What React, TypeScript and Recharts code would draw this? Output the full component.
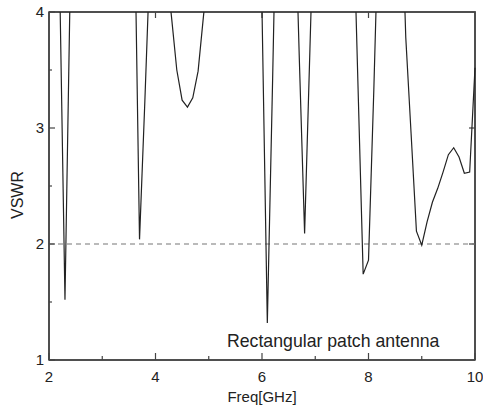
import { Customized, Line, LineChart, ReferenceArea, ReferenceLine, XAxis, YAxis } from "recharts";

// sweep samples, 0.1 GHz step
const freqs = [
  2.0, 2.1, 2.2, 2.3, 2.4, 2.5, 2.6, 2.7, 2.8, 2.9,
  3.0, 3.1, 3.2, 3.3, 3.4, 3.5, 3.6, 3.7, 3.8, 3.9,
  4.0, 4.1, 4.2, 4.3, 4.4, 4.5, 4.6, 4.7, 4.8, 4.9,
  5.0, 5.1, 5.2, 5.3, 5.4, 5.5, 5.6, 5.7, 5.8, 5.9,
  6.0, 6.1, 6.2, 6.3, 6.4, 6.5, 6.6, 6.7, 6.8, 6.9,
  7.0, 7.1, 7.2, 7.3, 7.4, 7.5, 7.6, 7.7, 7.8, 7.9,
  8.0, 8.1, 8.2, 8.3, 8.4, 8.5, 8.6, 8.7, 8.8, 8.9,
  9.0, 9.1, 9.2, 9.3, 9.4, 9.5, 9.6, 9.7, 9.8, 9.9,
  10.0
];

const vswr = [
  7.4, 5.9, 4.28, 1.52, 4.28, 6.1, 7.3, 8.0, 8.3, 8.1,
  7.6, 7.0, 6.5, 6.1, 5.8, 5.5, 5.01, 2.04, 3.23, 4.51,
  5.1, 5.0, 4.4, 3.96, 3.5, 3.24, 3.18, 3.26, 3.49, 3.96,
  4.4, 4.9, 5.4, 5.8, 6.1, 6.3, 6.2, 5.9, 5.3, 4.6,
  4.02, 1.32, 3.43, 5.7, 6.8, 6.6, 5.23, 3.61, 2.09, 3.68,
  5.28, 6.4, 7.0, 7.2, 7.0, 6.6, 6.0, 5.1, 3.41, 1.74,
  1.86, 3.33, 5.0, 6.0, 6.3, 6.0, 5.25, 3.78, 2.95, 2.11,
  1.99, 2.19, 2.36, 2.48, 2.62, 2.77, 2.83, 2.75, 2.61, 2.62,
  3.52
];

const xTicks = [2, 3, 4, 5, 6, 7, 8, 9, 10];
const xTopTicks = [4, 6, 8];
const yTicks = [1, 1.5, 2, 2.5, 3, 3.5, 4];
const yRightTicks = [2, 3];
const xMin = 2;
const xMax = 10;
const yMin = 1;
const yMax = 4;
const matchLevel = 2;
const annotation = "Rectangular patch antenna";

const data = freqs.map((f, i) => ({ f, v: vswr[i] }));

const font = "'Liberation Sans', Arial, sans-serif";
const axisColor = "#444";
const textColor = "#222";

// chart box
const chartW = 483;
const chartH = 409;
const margin = { top: 12, right: 8, bottom: 0, left: 0 };
const yAxisW = 49;
const xAxisH = 49;
const plotLeft = margin.left + yAxisW;
const plotTop = margin.top;
const plotW = chartW - margin.left - margin.right - yAxisW;
const plotH = chartH - margin.top - margin.bottom - xAxisH;

function BottomTick({ x, y, payload }: any) {
  const major = payload.value % 2 === 0;
  return (
    <g>
      <line x1={x} x2={x} y1={y} y2={y - (major ? 7 : 4)} stroke={axisColor} strokeWidth={1.2} />
      {major && (
        <text x={x} y={y + 22} textAnchor="middle" fontSize={15} fontFamily={font} fill={textColor}>
          {payload.value}
        </text>
      )}
    </g>
  );
}

function LeftTick({ x, y, payload }: any) {
  const major = Number.isInteger(payload.value);
  return (
    <g>
      <line x1={x} x2={x + (major ? 6 : 3)} y1={y} y2={y} stroke={axisColor} strokeWidth={1.2} />
      {major && (
        <text x={x - 5} y={y + 5} textAnchor="end" fontSize={15} fontFamily={font} fill={textColor}>
          {payload.value}
        </text>
      )}
    </g>
  );
}

// top and right edges of the box, with their inward ticks
function Frame() {
  const right = plotLeft + plotW;
  const toX = (t: number) => plotLeft + ((t - xMin) / (xMax - xMin)) * plotW;
  const toY = (t: number) => plotTop + ((yMax - t) / (yMax - yMin)) * plotH;
  return (
    <g>
      <path
        d={`M${plotLeft},${plotTop}H${right}V${plotTop + plotH}`}
        fill="none"
        stroke={axisColor}
        strokeWidth={1.5}
      />
      {xTopTicks.map((t) => (
        <path key={`t${t}`} d={`M${toX(t)},${plotTop}V${plotTop + 6}`} stroke={axisColor} strokeWidth={1.2} />
      ))}
      {yRightTicks.map((t) => (
        <path key={`r${t}`} d={`M${right},${toY(t)}H${right - 6}`} stroke={axisColor} strokeWidth={1.2} />
      ))}
      <text x={plotLeft + 178} y={plotTop + plotH - 13} fontSize={17.7} fontFamily={font} fill={textColor}>
        {annotation}
      </text>
    </g>
  );
}

export default function App() {
  return (
    <div style={{ position: "fixed", left: 0, top: 0, background: "#fff" }}>
      <LineChart width={chartW} height={chartH} data={data} margin={margin}>
        <XAxis
          dataKey="f"
          type="number"
          domain={[xMin, xMax]}
          ticks={xTicks}
          interval={0}
          height={xAxisH}
          tickSize={0}
          tickMargin={0}
          tickLine={false}
          tick={<BottomTick />}
          axisLine={{ stroke: axisColor, strokeWidth: 1.5 }}
          label={{
            content: ({ viewBox }: any) => (
              <text
                x={viewBox.x + viewBox.width / 2}
                y={viewBox.y + 42}
                textAnchor="middle"
                fontSize={15}
                fontFamily={font}
                fill={textColor}
              >
                Freq[GHz]
              </text>
            )
          }}
        />
        <YAxis
          type="number"
          domain={[yMin, yMax]}
          ticks={yTicks}
          interval={0}
          width={yAxisW}
          allowDataOverflow
          tickSize={0}
          tickMargin={0}
          tickLine={false}
          tick={<LeftTick />}
          axisLine={{ stroke: axisColor, strokeWidth: 1.5 }}
          label={{
            content: ({ viewBox }: any) => {
              const cx = viewBox.x + 17;
              const cy = viewBox.y + viewBox.height / 2 + 9;
              return (
                <text
                  x={cx}
                  y={cy}
                  dy={5.5}
                  transform={`rotate(-90 ${cx} ${cy})`}
                  textAnchor="middle"
                  fontSize={16}
                  fontFamily={font}
                  fill={textColor}
                >
                  VSWR
                </text>
              );
            }
          }}
        />
        <ReferenceArea x1={xMin} x2={xMax} y1={yMin} y2={yMax} fill="none" stroke={axisColor} strokeWidth={1.5} />
        <ReferenceLine y={matchLevel} stroke="#777" strokeWidth={1.2} strokeDasharray="5 4" />
        <Line
          type="linear"
          dataKey="v"
          stroke="#222"
          strokeWidth={1.2}
          dot={false}
          activeDot={false}
          isAnimationActive={false}
        />
        <Customized component={Frame} />
      </LineChart>
    </div>
  );
}
